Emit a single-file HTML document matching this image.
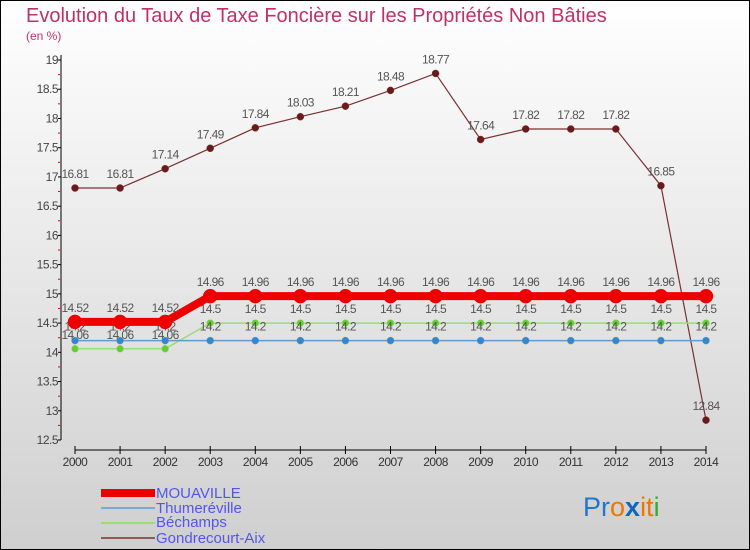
<!DOCTYPE html>
<html><head><meta charset="utf-8"><style>
body{margin:0;width:750px;height:550px;overflow:hidden}
svg{display:block;font-family:"Liberation Sans","DejaVu Sans",sans-serif}
</style></head><body>
<svg width="750" height="550">
<defs><linearGradient id="bg" x1="0" y1="0" x2="0" y2="1"><stop offset="0" stop-color="#ffffff"/><stop offset="1" stop-color="#cfcfcf"/></linearGradient></defs>
<rect x="0.5" y="0.5" width="749" height="549" fill="url(#bg)" stroke="#000"/>
<text x="26" y="22" font-size="20" fill="#c0306a">Evolution du Taux de Taxe Foncière sur les Propriétés Non Bâties</text>
<text x="26" y="40" font-size="12" fill="#c0306a">(en %)</text>
<g id="axes"></g>
<g id="series"></g>
<g>
<rect x="101" y="489" width="54" height="8" fill="#ee0000"/>
<text x="156" y="498" font-size="15" fill="#5555ee">MOUAVILLE</text>
<rect x="101" y="507" width="54" height="2" fill="#7aaad0"/>
<text x="156" y="513" font-size="15" fill="#5555ee">Thumeréville</text>
<rect x="101" y="522" width="54" height="2" fill="#99dd77"/>
<text x="156" y="527" font-size="15" fill="#5555ee">Béchamps</text>
<rect x="101" y="537" width="54" height="2" fill="#8b5a5a"/>
<text x="156" y="543" font-size="15" fill="#5555ee">Gondrecourt-Aix</text>
</g>
<g font-size="27">
<text x="583" y="516"><tspan fill="#2277cc">Pr</tspan><tspan fill="#ee7700">o</tspan><tspan fill="#1166bb" font-weight="bold">x</tspan><tspan fill="#ee7700">it</tspan><tspan fill="#33aa33">i</tspan></text>
</g>
</svg>
<script>
const years=["2000","2001","2002","2003","2004","2005","2006","2007","2008","2009","2010","2011","2012","2013","2014"];
const yTicks=[12.5,13,13.5,14,14.5,15,15.5,16,16.5,17,17.5,18,18.5,19];
const mouaville=[14.52,14.52,14.52,14.96,14.96,14.96,14.96,14.96,14.96,14.96,14.96,14.96,14.96,14.96,14.96];
const thumereville=[14.2,14.2,14.2,14.2,14.2,14.2,14.2,14.2,14.2,14.2,14.2,14.2,14.2,14.2,14.2];
const bechamps=[14.06,14.06,14.06,14.5,14.5,14.5,14.5,14.5,14.5,14.5,14.5,14.5,14.5,14.5,14.5];
const gondrecourt=[16.81,16.81,17.14,17.49,17.84,18.03,18.21,18.48,18.77,17.64,17.82,17.82,17.82,16.85,12.84];
const NS="http://www.w3.org/2000/svg";
const xS=i=>75+i*(706-75)/(years.length-1);
const yS=v=>60+(19-v)*(380/6.5);
function mk(t,a,p){const e=document.createElementNS(NS,t);for(const k in a)e.setAttribute(k,a[k]);p.appendChild(e);return e;}
const ax=document.getElementById('axes');
let l=mk('line',{x1:61,y1:55,x2:61,y2:440,stroke:'#000'},ax);


yTicks.forEach(v=>{const y=yS(v);
 mk('line',{x1:58,y1:y,x2:61,y2:y,stroke:'#000'},ax);
 if(v<19){mk('line',{x1:58,y1:yS(v+0.25),x2:60,y2:yS(v+0.25),stroke:'#e00'},ax);}
 const t=mk('text',{x:58,y:y+4,'font-size':12,'text-anchor':'end',fill:'#444','letter-spacing':'-0.5'},ax);t.textContent=String(v);
 
 });
l=mk('line',{x1:75,y1:450,x2:706,y2:450,stroke:'#000'},ax);


years.forEach((yr,i)=>{const x=xS(i);mk('line',{x1:x,y1:446,x2:x,y2:454,stroke:'#000'},ax);
 const t=mk('text',{x:x,y:466,'font-size':12,'text-anchor':'middle',fill:'#333','letter-spacing':'-0.5'},ax);t.textContent=yr;
 
 });
const sg=document.getElementById('series');
function series(vals,name,color,dot,w,r){
 const g=mk('g',{},sg);
 
 
 mk('polyline',{points:vals.map((v,i)=>xS(i)+','+yS(v)).join(' '),fill:'none',stroke:color,'stroke-width':w},g);
 vals.forEach((v,i)=>{const c=mk('circle',{cx:xS(i),cy:yS(v),r:r,fill:dot,stroke:color,'stroke-width':0.5},g);
  
  
  const t=mk('text',{x:xS(i),y:yS(v)-10,'font-size':12,'text-anchor':'middle',fill:'#555','letter-spacing':'-0.6'},g);t.textContent=String(v);
  
  });
}
series(gondrecourt,'gondrecourt-aix','#7a3030','#6a1a1a',1.2,3.5);
series(bechamps,'bechamps','#99dd77','#66cc33',1.5,3.5);
series(thumereville,'thumereville','#6699cc','#3388cc',1.5,3.5);
series(mouaville,'mouaville','#ee0000','#ee0000',8,7);
</script>
</body></html>
